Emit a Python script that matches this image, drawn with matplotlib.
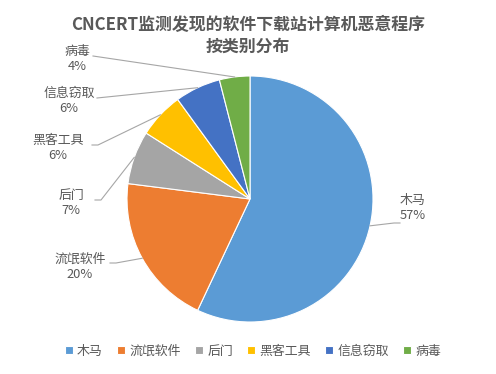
import numpy as np
import matplotlib
matplotlib.use("Agg")
import matplotlib.pyplot as plt

plt.rcParams["font.family"] = ["Noto Sans CJK SC", "DejaVu Sans"]

TITLE_LINES = ["CNCERT监测发现的软件下载站计算机恶意程序", "按类别分布"]
CATEGORIES = ["木马", "流氓软件", "后门", "黑客工具", "信息窃取", "病毒"]
VALUES = [57, 20, 7, 6, 6, 4]
COLORS = ["#5B9BD5", "#ED7D31", "#A5A5A5", "#FFC000", "#4472C4", "#70AD47"]

W, H = 496, 374
CENTER = (250, H - 199)
RADIUS = 123
TEXT_COLOR = "#595959"
LINE_COLOR = "#A6A6A6"

# label block centre and leader-line start, in pixels from top-left
LABEL_POS = [(413, 208), (80, 267), (71, 203), (58, 148), (69, 101), (77, 59)]
LINE_START = [(400, 223), (110, 263), (95, 200), (92, 145), (97, 98), (93, 56)]
KNEE = [6, 6, 6, 6, 0, 0]  # short flat part of the leader next to the label
TITLE_Y = [25, 47]

fig = plt.figure(figsize=(W / 100, H / 100), dpi=100)
ax = fig.add_axes([0, 0, 1, 1])

wedges, _ = ax.pie(
    VALUES,
    colors=COLORS,
    startangle=90,
    counterclock=False,
    center=CENTER,
    radius=RADIUS,
    wedgeprops=dict(edgecolor="white", linewidth=0.8),
    frame=True,
)
ax.set_xlim(0, W)
ax.set_ylim(0, H)
ax.set_aspect("equal")
ax.axis("off")

total = sum(VALUES)
for i, (wedge, name, val) in enumerate(zip(wedges, CATEGORIES, VALUES)):
    lx, ly = LABEL_POS[i]
    sx, sy = LINE_START[i]
    mid = np.deg2rad((wedge.theta1 + wedge.theta2) / 2)
    ex = CENTER[0] + RADIUS * np.cos(mid)
    ey = CENTER[1] + RADIUS * np.sin(mid)
    step = -KNEE[i] if ex < sx else KNEE[i]
    ax.plot([sx, sx + step, ex], [H - sy, H - sy, ey],
            color=LINE_COLOR, linewidth=0.8, zorder=3)
    ax.text(
        lx, H - ly,
        f"{name}\n{round(val / total * 100)}%",
        fontsize=9.3,
        color=TEXT_COLOR,
        ha="center",
        va="center",
        linespacing=1.25,
    )

for line, y in zip(TITLE_LINES, TITLE_Y):
    ax.text(
        W / 2, H - y,
        line,
        fontsize=12.2,
        fontweight="bold",
        color=TEXT_COLOR,
        ha="center",
        va="center",
    )

fig.legend(
    wedges, CATEGORIES,
    loc="center",
    bbox_to_anchor=(253 / W, 1 - 351 / H),
    ncol=6,
    frameon=False,
    fontsize=9.3,
    handlelength=0.6,
    handleheight=0.6,
    handletextpad=0.35,
    columnspacing=1.1,
    labelcolor=TEXT_COLOR,
)

fig.savefig("out.png", dpi=100)
